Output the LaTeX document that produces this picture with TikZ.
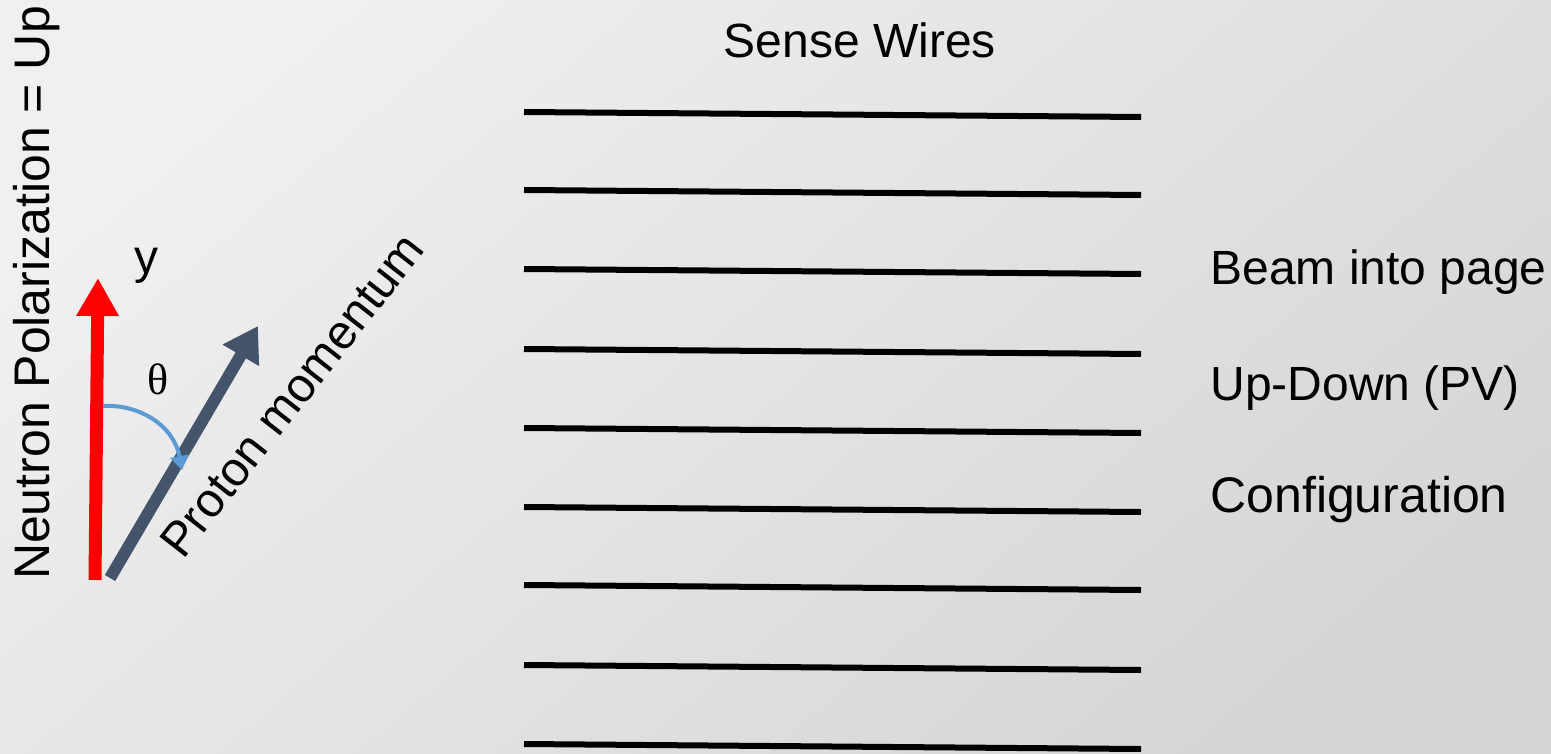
\documentclass[tikz,border=0pt]{standalone}
\usepackage{fontspec}
\setmainfont{Liberation Sans}
\newfontfamily\greekfont{Liberation Serif}
\usetikzlibrary{arrows.meta, positioning}
\definecolor{polred}{RGB}{255, 0, 0}
\definecolor{protslate}{RGB}{68, 84, 106}
\definecolor{angblue}{RGB}{91, 155, 213}

\begin{document}
\begin{tikzpicture}[
  x=0.5pt, y=-0.5pt,
  lbl/.style={font=\fontsize{24}{28}\selectfont, text=black, inner sep=0pt},
  wire/.style={line width=3pt, black},
  polarr/.style={-{Triangle[width=20pt, length=19pt]}, line width=6.5pt, color=polred},
  protarr/.style={-{Triangle[width=20pt, length=17pt]}, line width=6pt, color=protslate},
  angarr/.style={-{Triangle[length=7pt, width=9pt]}, line width=2pt, color=angblue}
]

% Background
\shade[top color=black!6, bottom color=black!16, shading angle=40] (0,0) rectangle (1551,754);
\useasboundingbox (0,0) rectangle (1551,754);

% Sense wires
\foreach \yy in {112, 190, 269, 349, 428, 507, 585, 665, 744}
  \draw[wire] (524,\yy) -- (1141,\yy+5);
\node[lbl] (sense) at (860,40) {Sense Wires};

% Labels on the right
\node[lbl, anchor=west] (beam) at (1210,272) {Beam into page};
\node[lbl, anchor=west] (updown) at (1210,388) {Up-Down (PV)};
\node[lbl, anchor=west, font=\fontsize{25}{28}\selectfont] (config) at (1210,500) {Configuration};

% Vectors
\coordinate (origin) at (95,580);
\coordinate (ytip) at (98,278);
\coordinate (porigin) at (110,578);
\coordinate (ptip) at (258,326);
\coordinate (arcstart) at (103,406);
\coordinate (arcend) at (182,470);

\draw[polarr] (origin) -- (ytip);
\draw[protarr] (porigin) -- (ptip);
\draw[angarr] (arcstart) .. controls (140,404) and (174,426) .. (arcend);

\node[lbl] (ylbl) at (146,266) {y};
\node[font=\greekfont\fontsize{22}{24}\selectfont, inner sep=0pt] (theta) at (158,379) {θ};
\node[lbl, rotate=90, font=\fontsize{25}{28}\selectfont] (npol) at (37,293) {Neutron Polarization = Up};
\node[lbl, rotate=52] (pmom) at (292,395) {Proton momentum};

\end{tikzpicture}
\end{document}
